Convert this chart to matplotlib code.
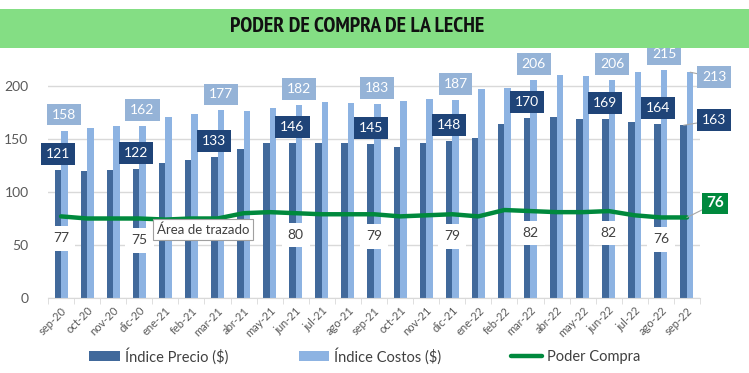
import matplotlib.pyplot as plt
from matplotlib import font_manager
from matplotlib.patches import Rectangle, Patch
from matplotlib.lines import Line2D

meses = ["sep-20", "oct-20", "nov-20", "dic-20", "ene-21", "feb-21", "mar-21", "abr-21",
         "may-21", "jun-21", "jul-21", "ago-21", "sep-21", "oct-21", "nov-21", "dic-21",
         "ene-22", "feb-22", "mar-22", "abr-22", "may-22", "jun-22", "jul-22", "ago-22", "sep-22"]
precio = [121, 120, 121, 122, 127, 130, 133, 141, 146, 146, 146, 146, 145, 142, 146, 148,
          151, 164, 170, 171, 169, 169, 166, 164, 163]
costos = [158, 160, 162, 162, 171, 174, 177, 176, 179, 182, 185, 184, 183, 186, 188, 187,
          197, 198, 206, 210, 209, 206, 213, 215, 213]
poder = [77, 75, 75, 75, 74, 75, 75, 80, 81, 80, 79, 79, 79, 77, 78, 79,
         77, 83, 82, 81, 81, 82, 78, 76, 76]

# which points carry data labels (mar-21 line label is hidden under the tooltip)
idx_barras = [0, 3, 6, 9, 12, 15, 18, 21, 23]
idx_linea = [0, 3, 9, 12, 15, 18, 21, 23]

C_PRECIO = "#41699B"
C_COSTOS = "#8DB3E2"
C_LINEA = "#00893D"
C_LAB_PRECIO = "#1F4478"
C_LAB_COSTOS = "#95B3D7"
FONT = ["Lato", "DejaVu Sans"]

plt.rcParams["font.family"] = FONT

# look for a narrow bold face for the title
narrow = [f for f in font_manager.fontManager.ttflist
          if ("Condensed" in f.name or "Narrow" in f.name or f.stretch in ("condensed", "semi-condensed", 75, 87))]
narrow.sort(key=lambda f: (0 if "Narrow" in f.name else 1,
                           0 if f.weight in ("bold", 700) else 1, f.style != "normal"))
if narrow:
    titulo_fp = font_manager.FontProperties(fname=narrow[0].fname, size=12 if "Narrow" not in narrow[0].name else 15.7)
else:
    titulo_fp = font_manager.FontProperties(family="Roboto", weight="bold", size=11)

fig = plt.figure(figsize=(7.49, 3.73), dpi=100)
ax = fig.add_axes([48 / 749, 75 / 373, 652 / 749, 243.8 / 373])

x = list(range(len(meses)))
w = 0.25
ax.bar([i - w / 2 for i in x], precio, width=w, color=C_PRECIO, zorder=2)
ax.bar([i + w / 2 for i in x], costos, width=w, color=C_COSTOS, zorder=2)
ax.plot(x, poder, color=C_LINEA, lw=3.2, solid_capstyle="round", zorder=4)

ax.set_xlim(-0.5, len(meses) - 0.5)
ax.set_ylim(0, 230)
ax.set_yticks([0, 50, 100, 150, 200])
ax.grid(axis="y", color="#D9D9D9", lw=1, zorder=0)
ax.set_axisbelow(True)
for s in ["top", "right", "left"]:
    ax.spines[s].set_visible(False)
ax.spines["bottom"].set_color("#D9D9D9")
ax.tick_params(axis="y", length=0, pad=14, labelsize=10, labelcolor="#595959")
ax.set_xticks(x)
ax.set_xticklabels(meses, rotation=45, ha="right", rotation_mode="anchor")
ax.tick_params(axis="x", which="major", length=0, pad=5, labelsize=8, labelcolor="#595959")
ax.set_xticks([i + 0.5 for i in range(-1, len(meses))], minor=True)
ax.tick_params(axis="x", which="minor", length=4, color="#D9D9D9")

# bar labels
for i in idx_barras:
    ax.annotate(str(precio[i]), (i - w / 2, precio[i]), xytext=(0, 16), textcoords="offset pixels",
                ha="center", va="center", fontsize=10, color="white", zorder=6,
                bbox=dict(boxstyle="square,pad=0.35", fc=C_LAB_PRECIO, ec="none"))
    ax.annotate(str(costos[i]), (i + w / 2, costos[i]), xytext=(0, 16), textcoords="offset pixels",
                ha="center", va="center", fontsize=10, color="white", zorder=6,
                bbox=dict(boxstyle="square,pad=0.35", fc=C_LAB_COSTOS, ec="none"))
for i in idx_linea:
    ax.annotate(str(poder[i]), (i, poder[i]), xytext=(0, -22), textcoords="offset pixels",
                ha="center", va="center", fontsize=10, color="#404040", zorder=5,
                bbox=dict(boxstyle="square,pad=0.45", fc="white", ec="none"))

# last month labels to the right
n = len(meses) - 1
ax.annotate(str(costos[n]), (n + w / 2, costos[n]), xytext=(24, -5), textcoords="offset pixels",
            ha="center", va="center", fontsize=10, color="white", zorder=6,
            bbox=dict(boxstyle="square,pad=0.35", fc=C_LAB_COSTOS, ec="none"),
            arrowprops=dict(arrowstyle="-", color="#A6A6A6", lw=0.8, shrinkA=0, shrinkB=0))
ax.annotate(str(precio[n]), (n - w / 2, precio[n]), xytext=(30, 5), textcoords="offset pixels",
            ha="center", va="center", fontsize=10, color="white", zorder=6,
            bbox=dict(boxstyle="square,pad=0.35", fc=C_LAB_PRECIO, ec="none"),
            arrowprops=dict(arrowstyle="-", color="#A6A6A6", lw=0.8, shrinkA=0, shrinkB=0))
ax.annotate(str(poder[n]), (n, poder[n]), xytext=(28, 14), textcoords="offset pixels",
            ha="center", va="center", fontsize=11, fontweight="bold", color="white", zorder=6,
            bbox=dict(boxstyle="square,pad=0.25", fc=C_LINEA, ec="none"),
            arrowprops=dict(arrowstyle="-", color="#A6A6A6", lw=0.8, shrinkA=0, shrinkB=0))

# title band
fig.patches.append(Rectangle((0, (373 - 48) / 373), 1, 39 / 373, transform=fig.transFigure,
                             fc="#84DE84", ec="none", zorder=1))
fig.text(357 / 749, (373 - 27) / 373, "PODER DE COMPRA DE LA LECHE", ha="center", va="center",
         fontproperties=titulo_fp, color="#111111", zorder=2)

# tooltip box left by the spreadsheet
fig.text(203 / 749, (373 - 229.5) / 373, "Área de trazado", ha="center", va="center",
         fontsize=9.5, color="#404040", zorder=7,
         bbox=dict(boxstyle="square,pad=0.3", fc="white", ec="#A0A0A0", lw=0.8))

handles = [Patch(fc=C_PRECIO, ec="none"), Patch(fc=C_COSTOS, ec="none"),
           Line2D([], [], color=C_LINEA, lw=3.2, solid_capstyle="round")]
fig.legend(handles, ["Índice Precio ($)", "Índice Costos ($)", "Poder Compra"],
           loc="center", bbox_to_anchor=(365 / 749, 17 / 373), ncol=3, frameon=False,
           fontsize=10.5, labelcolor="#404040", handlelength=2.1, handleheight=0.65,
           handletextpad=0.35, columnspacing=4.8)

fig.savefig("out.png", dpi=100)
